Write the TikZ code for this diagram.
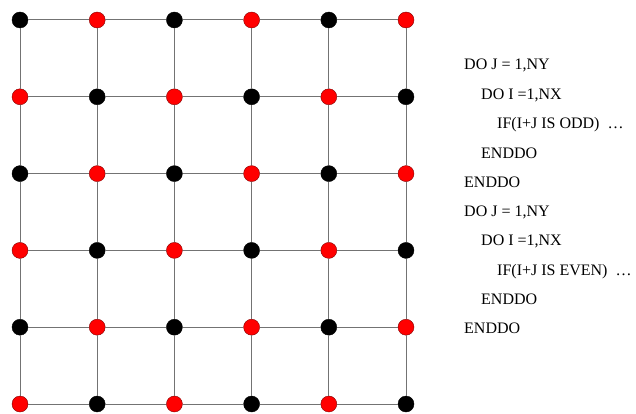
\documentclass[tikz,border=0pt]{standalone}
\usepackage{fontspec}
\setmainfont{Liberation Serif}
\usepackage{tikz}
\tikzset{
  blackpt/.style={circle,draw=black,fill=black,inner sep=0pt,minimum size=16pt},
  redpt/.style={circle,draw=red!50!black,fill=red,inner sep=0pt,minimum size=16pt},
  gridline/.style={draw=black!55,line width=1pt},
  code/.style={anchor=base west,inner sep=0pt,font=\fontsize{16}{19}\selectfont}
}

\begin{document}
\begin{tikzpicture}[x=1pt,y=1pt]
\useasboundingbox (0,0) rectangle (636,-414);

% Grid points: black where i+j is even, red where it is odd
\foreach \i in {0,...,5}{
  \foreach \j in {0,...,5}{
    \pgfmathtruncatemacro{\s}{mod(\i+\j,2)}
    \ifnum\s=0 \def\st{blackpt}\else\def\st{redpt}\fi
    \node[\st] (p\i\j) at (20+77.2*\i,-20-76.8*\j) {};
  }
}

% Grid lines
\foreach \i in {0,...,5}{
  \foreach \j [evaluate=\j as \k using int(\j+1)] in {0,...,4}{
    \draw[gridline] (p\i\j) -- (p\i\k);
    \draw[gridline] (p\j\i) -- (p\k\i);
  }
}

% Odd sweep
\node[code] (l1) at (464,-70) {DO J = 1,NY};
\node[code] (l2) at (481,-99.5) {DO I =1,NX};
\node[code] (l3) at (497,-128.5) {IF(I+J IS ODD)\ \ …};
\node[code] (l4) at (481,-158) {ENDDO};
\node[code] (l5) at (464,-187) {ENDDO};

% Even sweep
\node[code] (l6) at (464,-216.5) {DO J = 1,NY};
\node[code] (l7) at (481,-245.5) {DO I =1,NX};
\node[code] (l8) at (497,-275) {IF(I+J IS EVEN)\ \ …};
\node[code] (l9) at (481,-304) {ENDDO};
\node[code] (l10) at (464,-333) {ENDDO};
\end{tikzpicture}
\end{document}
